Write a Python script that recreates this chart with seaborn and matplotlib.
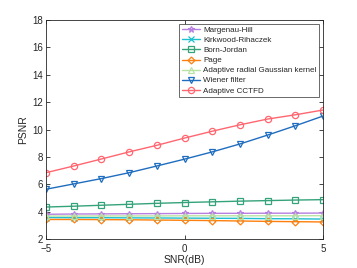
import pandas as pd
import numpy as np
import seaborn as sns
import matplotlib.pyplot as plt

snr = [-5, -4, -3, -2, -1, 0, 1, 2, 3, 4, 5]

margenau = [3.81, 3.83, 3.84, 3.85, 3.86, 3.87, 3.88, 3.88, 3.89, 3.89, 3.9]
kirkwood = [3.57, 3.56, 3.56, 3.55, 3.54, 3.53, 3.52, 3.51, 3.49, 3.48, 3.46]
born = [4.34, 4.4, 4.47, 4.54, 4.61, 4.67, 4.72, 4.77, 4.81, 4.85, 4.88]
page = [3.43, 3.43, 3.42, 3.41, 3.39, 3.37, 3.35, 3.32, 3.29, 3.27, 3.25]
radial = [3.68, 3.68, 3.69, 3.69, 3.69, 3.7, 3.7, 3.7, 3.7, 3.7, 3.71]
wiener = [5.64, 6.03, 6.42, 6.85, 7.34, 7.84, 8.37, 8.95, 9.6, 10.28, 10.99]
cctfd = [6.85, 7.34, 7.85, 8.37, 8.85, 9.38, 9.88, 10.35, 10.77, 11.08, 11.43]

names = ['Margenau-Hill', 'Kirkwood-Rihaczek', 'Born-Jordan', 'Page',
         'Adaptive radial Gaussian kernel', 'Wiener filter', 'Adaptive CCTFD']
series = [margenau, kirkwood, born, page, radial, wiener, cctfd]
colors = ['#b77fe0', '#1ebfcf', '#35a37a', '#ff7f0e', '#b9e3a3', '#1f6dbf', '#ff6670']
markers = ['*', 'x', 's', 'D', '^', 'v', 'o']

sns.set_style('ticks')
plt.rcParams['font.family'] = ['Liberation Sans', 'DejaVu Sans']

fig = plt.figure(figsize=(3.57, 2.68), dpi=100)
ax = fig.add_axes([0.129, 0.108, 0.776, 0.817])

for name, vals, c, m in zip(names, series, colors, markers):
    df = pd.DataFrame({'SNR': snr, 'PSNR': vals})
    sns.lineplot(data=df, x='SNR', y='PSNR', ax=ax, color=c, marker=m,
                 markersize=4.5 if m != 'D' else 3.5, markerfacecolor='none',
                 markeredgecolor=c, markeredgewidth=0.9, linewidth=1.0, label=name)

ax.set_xlim(-5, 5)
ax.set_ylim(2, 18)
ax.set_xticks([-5, 0, 5])
ax.set_yticks(range(2, 19, 2))
ax.set_xlabel('SNR(dB)', fontsize=7.5, labelpad=1)
ax.set_ylabel('PSNR', fontsize=7.5, labelpad=3)
ax.tick_params(direction='in', labelsize=7, length=3, width=0.6, colors='#262626',
               top=True, right=True)
ax.tick_params(axis='x', pad=3.5)
ax.tick_params(axis='y', pad=2)
for s in ax.spines.values():
    s.set_linewidth(0.6)
    s.set_color('#262626')

leg = ax.legend(loc='upper right', fontsize=5.8, frameon=True, fancybox=False,
                edgecolor='#262626', handlelength=2.3, labelspacing=0.3,
                borderpad=0.3, handletextpad=0.4, borderaxespad=0.5)
leg.get_frame().set_linewidth(0.6)

fig.savefig('out.png', dpi=100)
